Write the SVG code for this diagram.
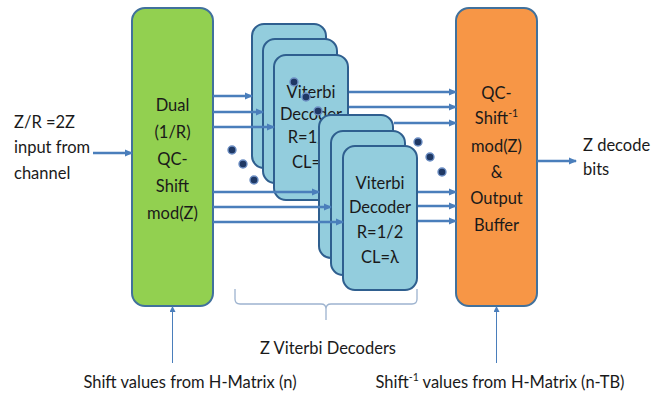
<svg xmlns="http://www.w3.org/2000/svg" width="660" height="394" viewBox="0 0 660 394">
<style>
text{font-family:Lato,"Open Sans","Liberation Sans",sans-serif;font-size:16.5px;fill:#1a1a1a}
.c{text-anchor:middle}
.main{stroke:#41719C;stroke-width:2}
.vit{fill:#93CDDD;stroke:#2F5F8F;stroke-width:2}
.arr{stroke:#4A7EBB;stroke-width:2.3;fill:none;marker-end:url(#ah)}
.thin{stroke:#4A7EBB;stroke-width:1;fill:none;marker-end:url(#ahs)}
.dot{fill:#1F3864;stroke:#6D8FC4;stroke-width:1.4}
</style>
<defs>
<marker id="ah" markerUnits="userSpaceOnUse" markerWidth="8" markerHeight="8" refX="7" refY="4" orient="auto"><path d="M0,0.5 L8,4 L0,7.5 z" fill="#4A7EBB"/></marker>
<marker id="ahs" markerUnits="userSpaceOnUse" markerWidth="6" markerHeight="6" refX="5" refY="3" orient="auto"><path d="M0,0 L6,3 L0,6 z" fill="#4A7EBB"/></marker>
</defs>
<rect width="660" height="394" fill="#ffffff"/>

<g id="input-label">
<text x="14" y="128">Z/R =2Z</text>
<text x="14" y="153">input from</text>
<text x="14" y="179">channel</text>
</g>

<g id="dual-shift">
<rect class="main" x="132" y="8" width="81" height="298" rx="13" fill="#92D050"/>
<text class="c" x="172.5" y="111">Dual</text>
<text class="c" x="172.5" y="138">(1/R)</text>
<text class="c" x="172.5" y="165">QC-</text>
<text class="c" x="172.5" y="192">Shift</text>
<text class="c" x="172.5" y="219">mod(Z)</text>
</g>

<g id="viterbi-upper">
<rect class="vit" x="252" y="24" width="74" height="144" rx="12"/>
<rect class="vit" x="263" y="39" width="74" height="144" rx="12"/>
<rect class="vit" x="274" y="55" width="74" height="145" rx="12"/>
<text class="c" x="311" y="98">Viterbi</text>
<text class="c" x="311" y="120">Decoder</text>
<text class="c" x="311" y="143">R=1/2</text>
<text class="c" x="311" y="168">CL=λ</text>
</g>

<g id="viterbi-lower">
<rect class="vit" x="319" y="115" width="74" height="143" rx="12"/>
<rect class="vit" x="331" y="131" width="74" height="144" rx="12"/>
<rect class="vit" x="343" y="146" width="74" height="144" rx="12"/>
<text class="c" x="380" y="189">Viterbi</text>
<text class="c" x="380" y="213">Decoder</text>
<text class="c" x="380" y="238">R=1/2</text>
<text class="c" x="380" y="263">CL=λ</text>
</g>

<g id="shift-inverse">
<rect class="main" x="456" y="8" width="81" height="298" rx="13" fill="#F79646"/>
<text class="c" x="496.5" y="99">QC-</text>
<text class="c" x="496.5" y="124">Shift<tspan font-size="10.5" dy="-7">-1</tspan></text>
<text class="c" x="496.5" y="152">mod(Z)</text>
<text class="c" x="496.5" y="178">&amp;</text>
<text class="c" x="496.5" y="204">Output</text>
<text class="c" x="496.5" y="231">Buffer</text>
</g>

<g id="output-label">
<text x="583" y="151">Z decode</text>
<text x="583" y="175">bits</text>
</g>

<g id="connectors">
<line class="arr" x1="93" y1="153" x2="132" y2="153"/>
<line class="arr" x1="213" y1="96" x2="252" y2="96"/>
<line class="arr" x1="213" y1="112" x2="263" y2="112"/>
<line class="arr" x1="213" y1="127" x2="274" y2="127"/>
<line class="arr" x1="213" y1="192" x2="319" y2="192"/>
<line class="arr" x1="213" y1="207" x2="331" y2="207"/>
<line class="arr" x1="213" y1="222" x2="343" y2="222"/>
<line class="arr" x1="349" y1="92" x2="456" y2="92"/>
<line class="arr" x1="349" y1="107" x2="456" y2="107"/>
<line class="arr" x1="394" y1="123" x2="456" y2="123"/>
<line class="arr" x1="418" y1="192" x2="456" y2="192"/>
<line class="arr" x1="418" y1="206" x2="456" y2="206"/>
<line class="arr" x1="418" y1="221" x2="456" y2="221"/>
<line class="arr" x1="537" y1="161" x2="576" y2="161"/>
<line class="thin" x1="172.5" y1="363" x2="172.5" y2="307"/>
<line class="thin" x1="496.5" y1="363" x2="496.5" y2="307"/>
</g>

<g id="ellipsis-dots">
<circle class="dot" cx="294" cy="82" r="4"/>
<circle class="dot" cx="306" cy="97" r="4"/>
<circle class="dot" cx="318" cy="111" r="4"/>
<circle class="dot" cx="232" cy="150" r="4"/>
<circle class="dot" cx="243" cy="164" r="4"/>
<circle class="dot" cx="254" cy="180" r="4"/>
<circle class="dot" cx="418" cy="142" r="4"/>
<circle class="dot" cx="430" cy="157" r="4"/>
<circle class="dot" cx="442" cy="172" r="4"/>
</g>

<g id="decoders-brace">
<path d="M235,289 V299 Q235,304 240,304 H321 Q326,304 326,309 V320 M326,309 Q326,304 331,304 H412 Q417,304 417,299 V289" fill="none" stroke="#9DB3CF" stroke-width="1.3"/>
<text class="c" x="328" y="354">Z Viterbi Decoders</text>
</g>

<g id="bottom-labels">
<text class="c" x="190" y="388">Shift values from H-Matrix (n)</text>
<text class="c" x="500" y="388">Shift<tspan font-size="10.5" dy="-7">-1</tspan><tspan dy="7"> values from H-Matrix (n-TB)</tspan></text>
</g>
</svg>
